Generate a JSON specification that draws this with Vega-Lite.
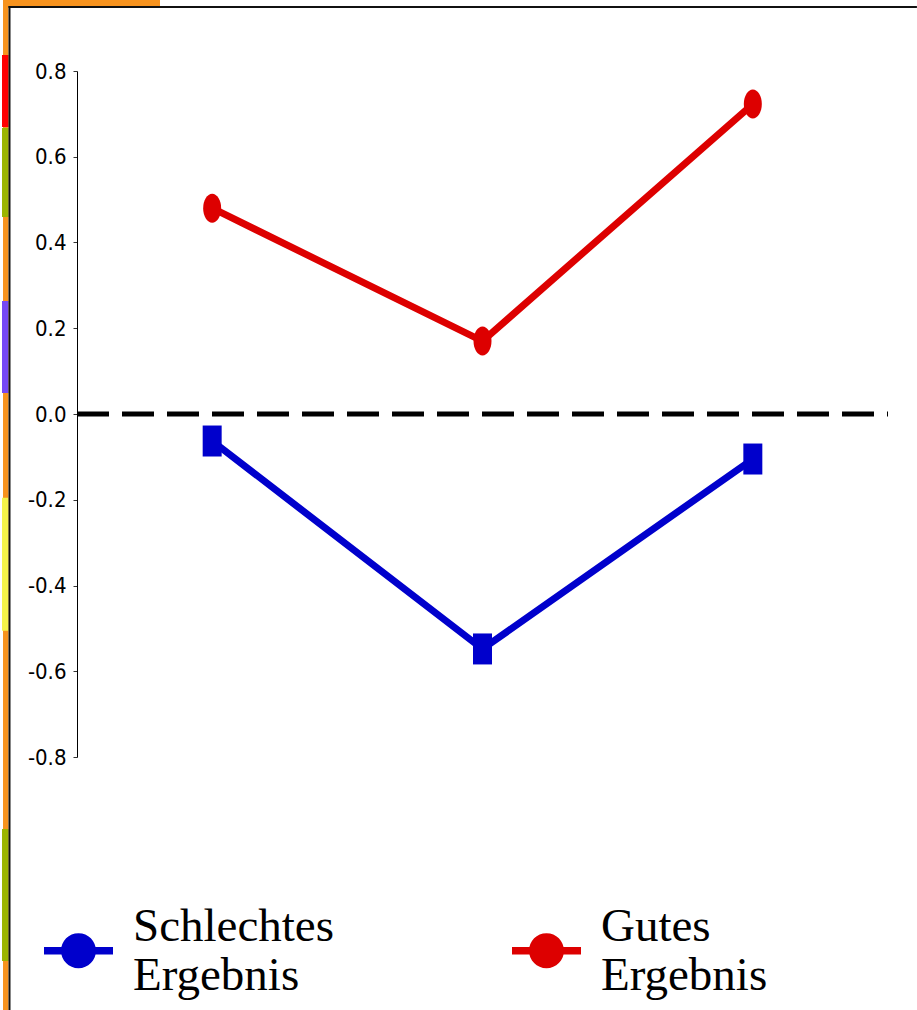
{
  "$schema": "https://vega.github.io/schema/vega-lite/v6.json",
  "width": 811,
  "height": 686,
  "autosize": {"type": "none"},
  "padding": {"left": 77, "top": 71, "right": 29, "bottom": 253},
  "background": "white",
  "config": {
    "view": {"stroke": null},
    "axisY": {
      "title": null,
      "grid": false,
      "domainColor": "black",
      "domainWidth": 1,
      "tickColor": "#333333",
      "tickSize": 4,
      "labelPadding": 7,
      "labelFont": "Liberation Sans Narrow, DejaVu Sans Condensed, sans-serif",
      "labelFontSize": 22,
      "labelColor": "black"
    }
  },
  "datasets": {
    "frame": [
      {"part": "Rahmen", "x0": 0.2263, "x1": 0.2466, "y0": 0.9656, "y1": -1.39},
      {"part": "Rahmen", "x0": 0.2263, "x1": 0.807, "y0": 0.9656, "y1": 0.9504},
      {"part": "Rot", "x0": 0.2226, "x1": 0.2466, "y0": 0.8373, "y1": 0.6694},
      {"part": "Oliv", "x0": 0.2226, "x1": 0.2466, "y0": 0.6671, "y1": 0.4595},
      {"part": "Lila", "x0": 0.2226, "x1": 0.2466, "y0": 0.2636, "y1": 0.049},
      {"part": "Gelb", "x0": 0.2226, "x1": 0.2466, "y0": -0.1956, "y1": -0.5058},
      {"part": "Oliv", "x0": 0.2226, "x1": 0.2466, "y0": -0.968, "y1": -1.2758},
      {"part": "Linie", "x0": 0.2466, "x1": 3.607, "y0": 0.9516, "y1": 0.947},
      {"part": "Linie", "x0": 0.2466, "x1": 0.254, "y0": 0.9516, "y1": -1.39}
    ],
    "results": [
      {"series": "Schlechtes Ergebnis", "pos": 1, "value": -0.063},
      {"series": "Schlechtes Ergebnis", "pos": 2, "value": -0.548},
      {"series": "Schlechtes Ergebnis", "pos": 3, "value": -0.105},
      {"series": "Gutes Ergebnis", "pos": 1, "value": 0.48},
      {"series": "Gutes Ergebnis", "pos": 2, "value": 0.17},
      {"series": "Gutes Ergebnis", "pos": 3, "value": 0.723}
    ],
    "zero": [{"z": 0}]
  },
  "layer": [
    {
      "data": {"name": "frame"},
      "mark": {"type": "rect"},
      "encoding": {
        "x": {"field": "x0", "type": "quantitative", "scale": {"domain": [0.5, 3.5], "nice": false, "zero": false}, "axis": null},
        "x2": {"field": "x1"},
        "y": {"field": "y0", "type": "quantitative", "scale": {"domain": [-0.8, 0.8], "nice": false, "zero": false},
              "axis": {"title": null, "values": [-0.8, -0.6, -0.4, -0.2, 0, 0.2, 0.4, 0.6, 0.8], "labelExpr": "replace(format(datum.value, '.1f'), '\u2212', '-')"}},
        "y2": {"field": "y1"},
        "color": {"field": "part", "type": "nominal"}
      }
    },
    {
      "data": {"name": "zero"},
      "mark": {"type": "rule", "color": "black", "strokeWidth": 5, "strokeDash": [32, 13], "strokeDashOffset": 31},
      "encoding": {
        "y": {"field": "z", "type": "quantitative", "scale": {"domain": [-0.8, 0.8], "nice": false, "zero": false},
              "axis": {"title": null, "values": [-0.8, -0.6, -0.4, -0.2, 0, 0.2, 0.4, 0.6, 0.8], "labelExpr": "replace(format(datum.value, '.1f'), '\u2212', '-')"}}
      }
    },
    {
      "data": {"name": "results"},
      "mark": {"type": "line", "strokeWidth": 7},
      "encoding": {
        "x": {"field": "pos", "type": "quantitative", "scale": {"domain": [0.5, 3.5], "nice": false, "zero": false}, "axis": null},
        "y": {"field": "value", "type": "quantitative", "scale": {"domain": [-0.8, 0.8], "nice": false, "zero": false},
              "axis": {"title": null, "values": [-0.8, -0.6, -0.4, -0.2, 0, 0.2, 0.4, 0.6, 0.8], "labelExpr": "replace(format(datum.value, '.1f'), '\u2212', '-')"}},
        "color": {"field": "series", "type": "nominal"}
      }
    },
    {
      "data": {"name": "results"},
      "mark": {"type": "point", "filled": true, "opacity": 1, "size": 900},
      "encoding": {
        "x": {"field": "pos", "type": "quantitative", "scale": {"domain": [0.5, 3.5], "nice": false, "zero": false}, "axis": null},
        "y": {"field": "value", "type": "quantitative", "scale": {"domain": [-0.8, 0.8], "nice": false, "zero": false},
              "axis": {"title": null, "values": [-0.8, -0.6, -0.4, -0.2, 0, 0.2, 0.4, 0.6, 0.8], "labelExpr": "replace(format(datum.value, '.1f'), '\u2212', '-')"}},
        "shape": {
          "field": "series", "type": "nominal",
          "scale": {"domain": ["Schlechtes Ergebnis", "Gutes Ergebnis"], "range": ["M-0.633,-1.033H0.633V1.033H-0.633Z", "M-0.6,0A0.6,0.967,0,1,0,0.6,0A0.6,0.967,0,1,0,-0.6,0Z"]},
          "legend": null
        },
        "color": {
          "field": "series", "type": "nominal",
          "scale": {
            "domain": ["Schlechtes Ergebnis", "Gutes Ergebnis", "Rahmen", "Rot", "Oliv", "Lila", "Gelb", "Linie"],
            "range": ["#0000CC", "#DD0000", "#F7931E", "#FF0000", "#9CB400", "#7548F5", "#F4F44A", "#111111"]
          },
          "legend": {
            "title": null,
            "values": ["Schlechtes Ergebnis", "Gutes Ergebnis"],
            "orient": "none",
            "legendX": -33,
            "legendY": 845,
            "direction": "horizontal",
            "columns": 2,
            "columnPadding": 178,
            "symbolType": "M-1,-0.11H1V0.11H-1Z M-0.507,0A0.507,0.507,0,1,1,0.507,0A0.507,0.507,0,1,1,-0.507,0Z",
            "symbolSize": 4761,
            "symbolStrokeWidth": 0,
            "labelFont": "Liberation Serif",
            "labelFontSize": 47,
            "labelColor": "black",
            "labelBaseline": "bottom",
            "labelOffset": 20,
            "labelLimit": 500,
            "labelExpr": "split(datum.label, ' ')"
          }
        }
      }
    }
  ]
}
